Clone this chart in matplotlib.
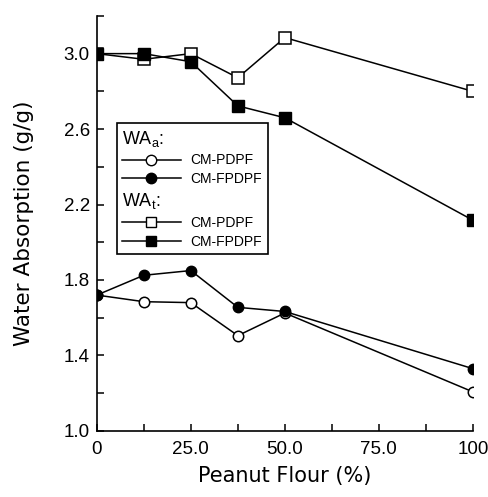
import numpy as np
import matplotlib
matplotlib.use("Agg")
import matplotlib.pyplot as plt
from matplotlib.lines import Line2D

plt.rcParams['font.family'] = ['Liberation Sans', 'DejaVu Sans']

# peanut flour level (%)
flour = [0, 12.5, 25, 37.5, 50, 100]

# water absorption (g/g)
wa_a_pdpf = [1.72, 1.685, 1.68, 1.505, 1.625, 1.207]
wa_a_fpdpf = [1.72, 1.825, 1.85, 1.655, 1.633, 1.33]
wa_t_pdpf = [3.0, 2.97, 3.0, 2.872, 3.085, 2.80]
wa_t_fpdpf = [3.0, 3.0, 2.957, 2.723, 2.66, 2.117]

fig = plt.figure(figsize=(4.89, 4.97), dpi=100)
ax = fig.add_axes([0.198, 0.133, 0.769, 0.835])

lw = 1.1
ax.plot(flour, wa_t_pdpf, '-s', color='black', lw=lw, ms=8, mfc='white', mec='black', mew=1.1, zorder=3)
ax.plot(flour, wa_t_fpdpf, '-s', color='black', lw=lw, ms=8, mfc='black', mec='black', zorder=4)
ax.plot(flour, wa_a_pdpf, '-o', color='black', lw=lw, ms=7.5, mfc='white', mec='black', mew=1.1, zorder=3)
ax.plot(flour, wa_a_fpdpf, '-o', color='black', lw=lw, ms=7.5, mfc='black', mec='black', zorder=4)

ax.set_xlim(0, 100)
ax.set_ylim(1.0, 3.2)
ax.set_xticks([0, 25, 50, 75, 100])
ax.set_xticklabels(['0', '25.0', '50.0', '75.0', '100'])
ax.set_xticks(np.arange(0, 101, 12.5), minor=True)
ax.set_yticks([1.0, 1.4, 1.8, 2.2, 2.6, 3.0])
ax.set_yticklabels(['1.0', '1.4', '1.8', '2.2', '2.6', '3.0'])
ax.set_yticks(np.arange(1.0, 3.21, 0.2), minor=True)
ax.tick_params(which='both', direction='in', length=5, width=1.1, labelsize=13.5, pad=5)
ax.tick_params(axis='x', pad=7)
ax.spines['top'].set_visible(False)
ax.spines['right'].set_visible(False)
for s in ['left', 'bottom']:
    ax.spines[s].set_linewidth(1.2)

ax.set_xlabel('Peanut Flour (%)', fontsize=15, family='DejaVu Sans', labelpad=6)
ax.set_ylabel('Water Absorption (g/g)', fontsize=15.5, family='DejaVu Sans', labelpad=21)

# legend with two group headers
blank = Line2D([], [], linestyle='none', marker='none')
handles = [
    blank,
    Line2D([], [], color='black', lw=lw, marker='o', ms=7.5, mfc='white', mec='black'),
    Line2D([], [], color='black', lw=lw, marker='o', ms=7.5, mfc='black', mec='black'),
    blank,
    Line2D([], [], color='black', lw=lw, marker='s', ms=7.5, mfc='white', mec='black'),
    Line2D([], [], color='black', lw=lw, marker='s', ms=7.5, mfc='black', mec='black'),
]
labels = ['WA$_\\mathregular{a}$:', 'CM-PDPF', 'CM-FPDPF', 'WA$_\\mathregular{t}$:', 'CM-PDPF', 'CM-FPDPF']
leg = ax.legend(handles, labels, loc='upper left', bbox_to_anchor=(0.053, 0.742),
                fontsize=10, handlelength=4.2, handletextpad=0.7, labelspacing=0.35,
                borderpad=0.4, frameon=True, fancybox=False, edgecolor='black',
                framealpha=1, borderaxespad=0)
leg.get_frame().set_linewidth(1.2)

# header rows: drop the handle so text starts at the left edge
rows = [r for col in leg._legend_handle_box.get_children() for r in col.get_children()]
for i in (0, 3):
    rows[i].get_children()[0].width = 0
    rows[i].sep = 0
    leg.get_texts()[i].set_fontsize(13)

fig.savefig('out.png', dpi=100)
